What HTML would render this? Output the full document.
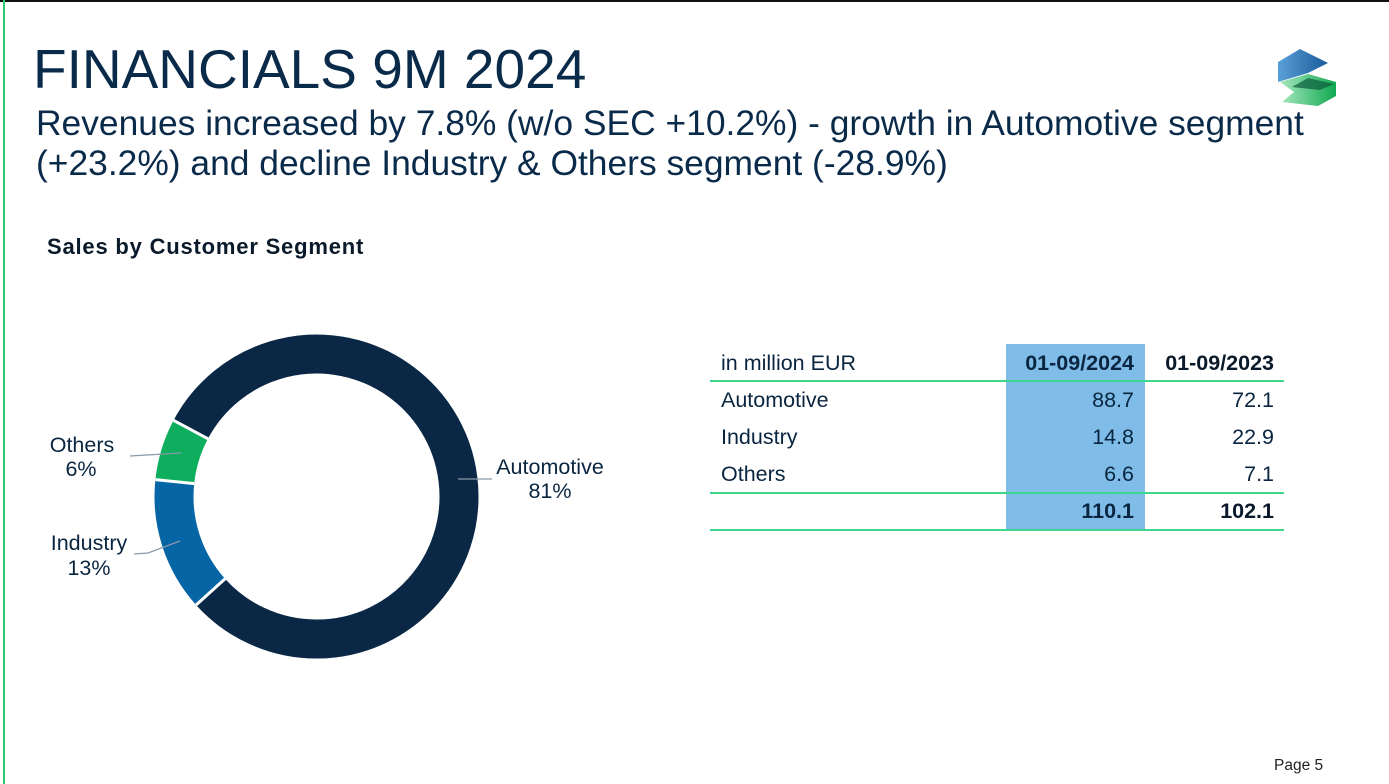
<!DOCTYPE html>
<html><head><meta charset="utf-8"><style>
html,body{margin:0;padding:0}
body{width:1389px;height:784px;position:relative;background:#fff;font-family:"Liberation Sans",Arial,sans-serif;overflow:hidden;color:#0a2540}
.a{position:absolute;white-space:nowrap}
.t{font-size:21.5px}
</style></head><body>
<div class="a" style="left:0;top:0;width:1389px;height:2px;background:#111"></div>
<div class="a" style="left:3px;top:0;width:2px;height:784px;background:#2ecc71"></div>
<div class="a" style="left:33px;top:37px;font-size:55px;color:#0a2a4a">FINANCIALS 9M 2024</div>
<div class="a" style="left:36px;top:103px;font-size:35.4px;line-height:40px;color:#0a2a4a">Revenues increased by 7.8% (w/o SEC +10.2%) - growth in Automotive segment<br>(+23.2%) and decline Industry &amp; Others segment (-28.9%)</div>
<div class="a" style="left:47px;top:234px;font-size:22px;letter-spacing:0.8px;font-weight:bold;color:#0a1a2a">Sales by Customer Segment</div>
<svg class="a" style="left:1270px;top:40px" width="80" height="80" viewBox="0 0 80 80">
<defs><linearGradient id="gb" x1="0" x2="1"><stop offset="0" stop-color="#5aa0d8"/><stop offset="1" stop-color="#1a5a9a"/></linearGradient>
<linearGradient id="gg" x1="0" x2="1"><stop offset="0" stop-color="#a8e8c0"/><stop offset="1" stop-color="#10a850"/></linearGradient></defs>
<path d="M8 22 L30 9 L58 23 L38 33 L8 42 Z" fill="url(#gb)"/>
<path d="M10 42 L38 34 L66 42 L66 56 L48 66 L12 62 L24 52 Z" fill="url(#gg)"/>
<path d="M22 47 L38 38 L64 44 L50 50 Z" fill="#0a5a3a" opacity=".7"/>
</svg>
<svg class="a" style="left:0;top:0" width="700" height="784">
<g fill="none" stroke-width="39">
<path d="M190.7 429.6 A142.5 142.5 0 1 1 210.6 591.9" stroke="#0a2845"/>
<path d="M210.6 591.9 A142.5 142.5 0 0 1 174.8 481.6" stroke="#0565a5"/>
<path d="M174.8 481.6 A142.5 142.5 0 0 1 190.7 429.6" stroke="#0fae5e"/>
</g>
<g stroke="#fff" stroke-width="3">
<line x1="208" y1="438.8" x2="173.5" y2="420.3"/>
<line x1="194.2" y1="483.6" x2="155.4" y2="479.6"/>
<line x1="225.1" y1="578.8" x2="196.1" y2="605"/>
</g>
<g stroke="#8a9aa8" stroke-width="1.3" fill="none">
<line x1="130" y1="456" x2="181" y2="453"/>
<polyline points="134,554 148,553 180,541"/>
<line x1="458" y1="479" x2="492" y2="479"/>
</g>
<g font-size="21.5" fill="#0a2540" text-anchor="middle">
<text x="82" y="452">Others</text><text x="81" y="476">6%</text>
<text x="89" y="550">Industry</text><text x="89" y="575">13%</text>
<text x="550" y="474">Automotive</text><text x="550" y="498">81%</text>
</g>
</svg>
<div class="a" style="left:1006px;top:344px;width:139px;height:186px;background:#7fbce8"></div>
<div class="a" style="left:710px;top:380px;width:574px;height:2px;background:#3dd68c"></div>
<div class="a" style="left:710px;top:492px;width:574px;height:2px;background:#3dd68c"></div>
<div class="a" style="left:710px;top:529px;width:574px;height:2px;background:#3dd68c"></div>
<div class="a t" style="left:721px;top:351px">in million EUR</div>
<div class="a t" style="left:721px;top:388px">Automotive</div>
<div class="a t" style="left:721px;top:425px">Industry</div>
<div class="a t" style="left:721px;top:462px">Others</div>
<div class="a t" style="right:255px;top:351px;font-weight:bold">01-09/2024</div>
<div class="a t" style="right:255px;top:388px">88.7</div>
<div class="a t" style="right:255px;top:425px">14.8</div>
<div class="a t" style="right:255px;top:462px">6.6</div>
<div class="a t" style="right:255px;top:499px;font-weight:bold">110.1</div>
<div class="a t" style="right:115px;top:351px;font-weight:bold;color:#0a1a2a">01-09/2023</div>
<div class="a t" style="right:115px;top:388px">72.1</div>
<div class="a t" style="right:115px;top:425px">22.9</div>
<div class="a t" style="right:115px;top:462px">7.1</div>
<div class="a t" style="right:115px;top:499px;font-weight:bold;color:#0a1a2a">102.1</div>
<div class="a" style="left:1274px;top:757px;font-size:15.5px;color:#222">Page 5</div>
</body></html>
